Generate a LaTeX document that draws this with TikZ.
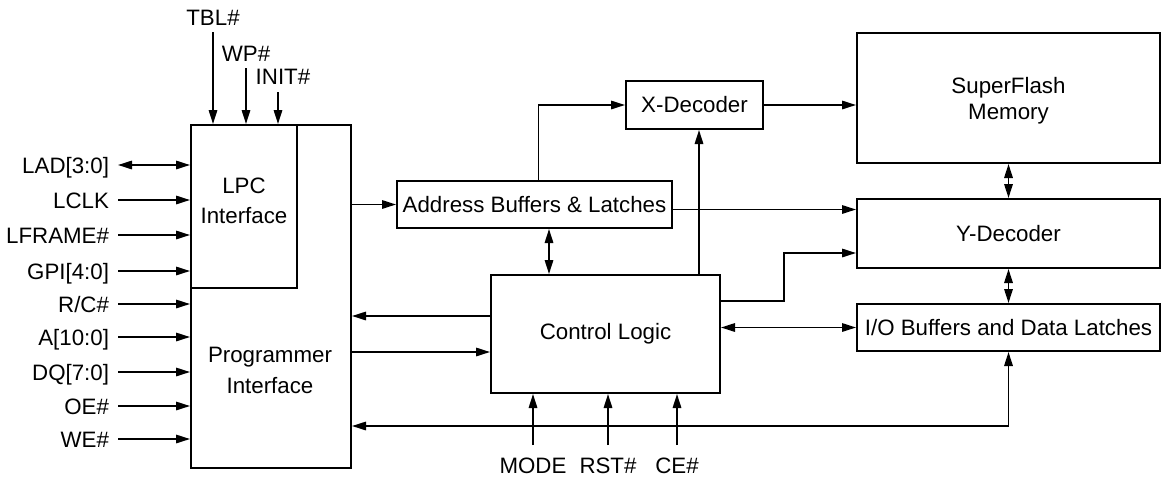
\documentclass[tikz,border=0pt]{standalone}
\usepackage{fontspec}
\setmainfont{Liberation Sans}
\usetikzlibrary{positioning,arrows.meta}
\newcommand{\diagfont}{\fontsize{22.3}{26}\selectfont}
\tikzstyle{block} = [rectangle, draw=black, line width=2pt, inner sep=0pt, align=center, font=\diagfont]
\tikzstyle{conn} = [line width=1.6pt, -{Triangle[length=14pt,width=8.5pt]}]
\tikzstyle{biconn} = [line width=1.6pt, {Triangle[length=14pt,width=8.5pt]}-{Triangle[length=14pt,width=8.5pt]}]

\begin{document}
\begin{tikzpicture}[x=1pt, y=-1pt,
		signal/.style={
				inner sep=0pt,
				outer sep=9pt,
				text height=16pt,
				text depth=0pt,
				font=\diagfont,
			}
	]
	\useasboundingbox (0,0) rectangle (1162,477);

	% Interface blocks
	\node[block, anchor=north west, minimum width=160pt, minimum height=343pt] (main) at (190,124) {};
	\node[block, anchor=north west, minimum width=106pt, minimum height=163pt, text depth=12pt,
		font={\fontsize{22.3}{30}\selectfont}] (lpc) at (190,124) {LPC\\Interface};
	\node[align=center, inner sep=0pt, font={\fontsize{22.3}{31}\selectfont}] (prog) at (270,370) {Programmer\\Interface};

	% Core blocks
	\node[block, minimum width=275pt, minimum height=47pt] (addr) at (534.5,204.5) {Address Buffers \& Latches};
	\node[block, minimum width=137pt, minimum height=48pt] (xdec) at (694.5,105) {X-Decoder};
	\node[block, minimum width=229pt, minimum height=118pt] (ctrl) at (605.5,334) {Control Logic};

	% Memory array
	\node[block, minimum width=303pt, minimum height=130pt, text depth=0pt] (flash) at (1008.5,98) {SuperFlash\\Memory};
	\node[block, below=34pt of flash, minimum width=303pt, minimum height=69pt] (ydec) {Y-Decoder};
	\node[block, below=34pt of ydec, minimum width=303pt, minimum height=47pt] (io) {I/O Buffers and Data Latches};

	% Left pins
	\node[signal, anchor=east] (lad) at (118,165) {LAD[3:0]};
	\node[signal, anchor=east] (lclk) at (118,200) {LCLK};
	\node[signal, anchor=east] (lframe) at (118,235) {LFRAME\#};
	\node[signal, anchor=east] (gpi) at (118,271) {GPI[4:0]};
	\node[signal, anchor=east] (rc) at (118,304) {R/C\#};
	\node[signal, anchor=east] (addrpin) at (118,337) {A[10:0]};
	\node[signal, anchor=east] (dq) at (118,372) {DQ[7:0]};
	\node[signal, anchor=east] (oe) at (118,406) {OE\#};
	\node[signal, anchor=east] (we) at (118,439) {WE\#};

	% Top pins
	\node[signal, anchor=south, outer sep=7pt] (tbl) at (213,32) {TBL\#};
	\node[signal, anchor=south, outer sep=7pt] (wp) at (246,68) {WP\#};
	\node[signal, anchor=south, outer sep=8pt] (init) at (283,92) {INIT\#};

	% Bottom pins
	\node[signal, anchor=north, outer sep=12pt] (mode) at (533,445) {MODE};
	\node[signal, anchor=north, outer sep=12pt] (rst) at (608,445) {RST\#};
	\node[signal, anchor=north, outer sep=12pt] (ce) at (677,445) {CE\#};

	% Pin connections
	\draw[biconn] (lad.east) -- (lad.east -| main.west);
	\draw[conn] (lclk.east) -- (lclk.east -| main.west);
	\draw[conn] (lframe.east) -- (lframe.east -| main.west);
	\draw[conn] (gpi.east) -- (gpi.east -| main.west);
	\draw[conn] (rc.east) -- (rc.east -| main.west);
	\draw[conn] (addrpin.east) -- (addrpin.east -| main.west);
	\draw[conn] (dq.east) -- (dq.east -| main.west);
	\draw[conn] (oe.east) -- (oe.east -| main.west);
	\draw[conn] (we.east) -- (we.east -| main.west);
	\draw[conn] (tbl.south) -- (tbl.south |- main.north);
	\draw[conn] (wp.south) -- (wp.south |- main.north);
	\draw[conn] ([xshift=-5pt]init.south) -- ([xshift=-5pt]init.south |- main.north);
	\draw[conn] (mode.north) -- (mode.north |- ctrl.south);
	\draw[conn] (rst.north) -- (rst.north |- ctrl.south);
	\draw[conn] (ce.north) -- (ce.north |- ctrl.south);

	% Internal connections
	\draw[conn] (main.east |- addr.west) -- (addr.west);
	\draw[conn] ([xshift=4pt]addr.north) |- (xdec.west);
	\draw[conn] ([yshift=-5pt]addr.east) -- ([yshift=-5pt]addr.east -| ydec.west);
	\draw[biconn] ([xshift=14.5pt]addr.south) -- ([xshift=14.5pt]addr.south |- ctrl.north);
	\draw[conn] ([xshift=4.5pt]xdec.south |- ctrl.north) -- ([xshift=4.5pt]xdec.south);
	\draw[conn] (xdec.east) -- (xdec.east -| flash.west);
	\draw[conn] ([yshift=33pt]ctrl.east) -| ([xshift=-72pt,yshift=-19.5pt]ydec.west) -- ([yshift=-19.5pt]ydec.west);
	\draw[biconn] (ctrl.east |- io.west) -- (io.west);
	\draw[conn] ([yshift=18pt]ctrl.west) -- ([yshift=18pt]ctrl.west -| main.east);
	\draw[conn] ([yshift=-18pt]ctrl.west -| main.east) -- ([yshift=-18pt]ctrl.west);
	\draw[biconn] (io.south) |- ([yshift=-129.5pt]main.east);
	\draw[biconn] (flash.south) -- (ydec.north);
	\draw[biconn] (ydec.south) -- (io.north);
\end{tikzpicture}
\end{document}
